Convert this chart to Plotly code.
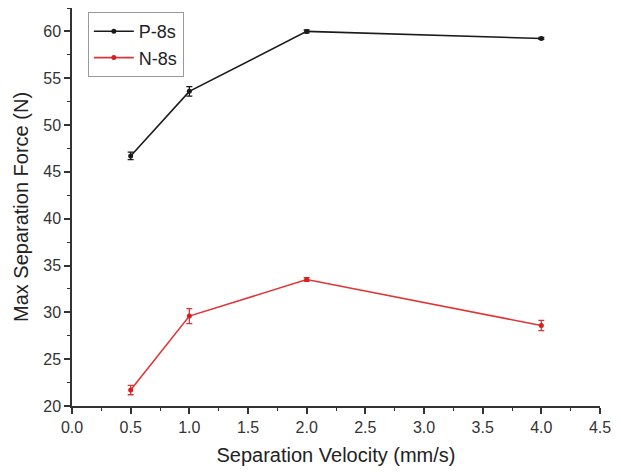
import plotly.graph_objects as go

velocity = [0.5, 1.0, 2.0, 4.0]
p8s_force = [46.7, 53.6, 60.0, 59.25]
p8s_err = [0.4, 0.5, 0.15, 0.1]
n8s_force = [21.7, 29.6, 33.5, 28.6]
n8s_err = [0.5, 0.8, 0.2, 0.55]

FONT = "Liberation Sans, Arial, sans-serif"

fig = go.Figure()
fig.add_trace(go.Scatter(
    x=velocity, y=p8s_force, name="P-8s", mode="lines+markers",
    line=dict(color="#1a1a1a", width=1.6),
    marker=dict(size=5, color="#1a1a1a"),
    error_y=dict(type="data", array=p8s_err, visible=True, color="#1a1a1a", thickness=1.3, width=3),
))
fig.add_trace(go.Scatter(
    x=velocity, y=n8s_force, name="N-8s", mode="lines+markers",
    line=dict(color="#e03535", width=1.6),
    marker=dict(size=5, color="#d81f1f"),
    error_y=dict(type="data", array=n8s_err, visible=True, color="#e03535", thickness=1.3, width=3),
))

axis_common = dict(
    showline=True, linecolor="#333", linewidth=1.5, mirror=False,
    ticks="outside", ticklen=6, tickwidth=1.5, tickcolor="#333",
    showgrid=False, zeroline=False,
    tickfont=dict(family=FONT, size=16, color="#333"),
    title_font=dict(family=FONT, size=20, color="#222"),
)

fig.update_xaxes(
    range=[0, 4.5], dtick=0.5, tick0=0, tickformat=".1f",
    minor=dict(ticks="outside", ticklen=3, tickwidth=1.2, tickcolor="#333", dtick=0.25),
    title_text="Separation Velocity (mm/s)", title_standoff=13,
    **axis_common,
)
fig.update_yaxes(
    range=[20, 62.5], dtick=5, tick0=20,
    minor=dict(ticks="outside", ticklen=3, tickwidth=1.2, tickcolor="#333", dtick=2.5),
    title_text="Max Separation Force (N)", title_standoff=9,
    **axis_common,
)

fig.update_layout(
    width=621, height=474,
    margin=dict(l=72, r=21, t=8, b=68),
    plot_bgcolor="white", paper_bgcolor="white",
    font=dict(family=FONT, color="#222"),
    legend=dict(
        x=0.03, y=0.99, xanchor="left", yanchor="top",
        bordercolor="#999", borderwidth=1, bgcolor="white",
        font=dict(size=18, color="#222"),
        tracegroupgap=0, itemwidth=40,
    ),
    showlegend=True,
)

fig.write_html("out.html")
